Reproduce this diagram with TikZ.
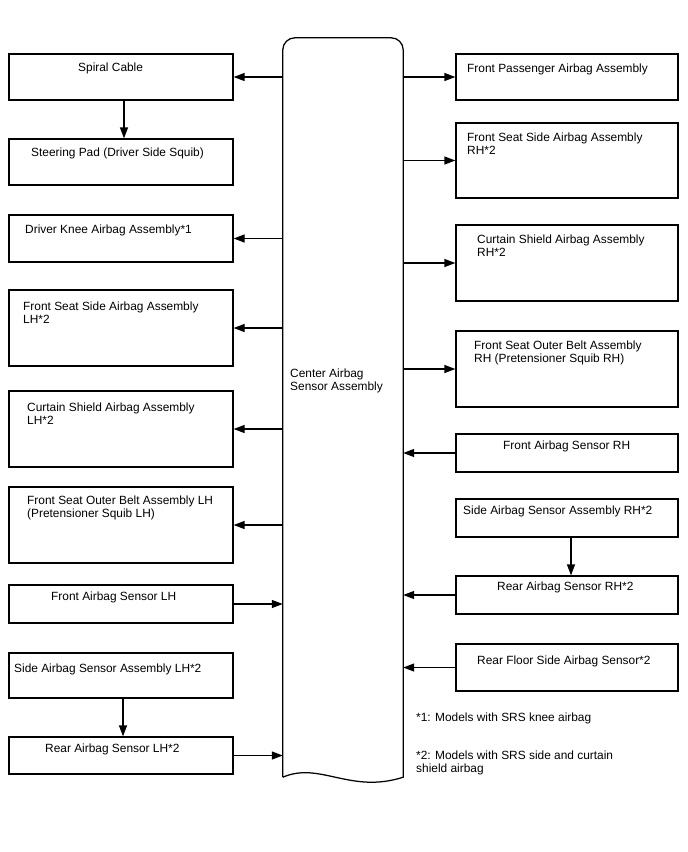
\documentclass[tikz,border=0pt]{standalone}
\usepackage{fontspec}
\setmainfont{Liberation Sans}
\usetikzlibrary{arrows.meta, calc}

\begin{document}
\begin{tikzpicture}[x=1pt, y=-1pt,
  box/.style={draw, line width=1.25pt, minimum width=224, inner sep=0pt},
  rbox/.style={box, minimum width=222},
  txt/.style={anchor=base west, inner sep=0pt, align=left, font=\fontsize{11.9}{12.9}\selectfont},
  arr/.style={line width=1.25pt, -{Triangle[length=11pt,width=8pt]}}]
  \useasboundingbox (0,0) rectangle (688,852);

  % Center airbag sensor assembly (rounded top, wavy bottom)
  \node[minimum width=120, minimum height=739, inner sep=0pt] (csa) at (343,407.5) {};
  \draw[line width=1.25pt] (csa.south west) [rounded corners=12] -- (csa.north west) -- (csa.north east)
    [sharp corners] -- (csa.south east) .. controls +(-53,17) and +(37,-16) .. (csa.south west);
  % (multi-line texts: placed at the baseline of their last line)
  \node[txt] (csat) at (290,390) {Center Airbag\\Sensor Assembly};

  % Left column
  \node[box, minimum height=46] (sc) at (121,77) {};
  \node[box, minimum height=46] (sp) at (121,162) {};
  \node[box, minimum height=47] (dk) at (121,238.5) {};
  \node[box, minimum height=76] (fssl) at (121,328) {};
  \node[box, minimum height=76] (csl) at (121,429) {};
  \node[box, minimum height=76] (fsbl) at (121,525) {};
  \node[box, minimum height=38] (fasl) at (121,604) {};
  \node[box, minimum height=45] (sasl) at (121,675.5) {};
  \node[box, minimum height=37] (rasl) at (121,755.5) {};

  \node[txt] (sct) at (78,71) {Spiral Cable};
  \node[txt] (spt) at (31,156) {Steering Pad (Driver Side Squib)};
  \node[txt] (dkt) at (25,233) {Driver Knee Airbag Assembly*1};
  \node[txt] (fsslt) at (23,323) {Front Seat Side Airbag Assembly\\LH*2};
  \node[txt] (cslt) at (27,424) {Curtain Shield Airbag Assembly\\LH*2};
  \node[txt] (fsblt) at (27,517) {Front Seat Outer Belt Assembly LH\\(Pretensioner Squib LH)};
  \node[txt] (faslt) at (51,600) {Front Airbag Sensor LH};
  \node[txt] (saslt) at (14,672) {Side Airbag Sensor Assembly LH*2};
  \node[txt] (raslt) at (45,752) {Rear Airbag Sensor LH*2};

  % Right column
  \node[rbox, minimum height=46] (fpa) at (567,77) {};
  \node[rbox, minimum height=75] (fssr) at (567,160.5) {};
  \node[rbox, minimum height=76] (csr) at (567,263) {};
  \node[rbox, minimum height=76] (fsbr) at (567,369) {};
  \node[rbox, minimum height=38] (fasr) at (567,453) {};
  \node[rbox, minimum height=38] (sasr) at (567,518) {};
  \node[rbox, minimum height=38] (rasr) at (567,595) {};
  \node[rbox, minimum height=47] (rfs) at (567,667.5) {};

  \node[txt] (fpat) at (467,72) {Front Passenger Airbag Assembly};
  \node[txt] (fssrt) at (467,154.5) {Front Seat Side Airbag Assembly\\RH*2};
  \node[txt] (csrt) at (477,256) {Curtain Shield Airbag Assembly\\RH*2};
  \node[txt] (fsbrt) at (474,362) {Front Seat Outer Belt Assembly\\RH (Pretensioner Squib RH)};
  \node[txt] (fasrt) at (503,449.5) {Front Airbag Sensor RH};
  \node[txt] (sasrt) at (463,514) {Side Airbag Sensor Assembly RH*2};
  \node[txt] (rasrt) at (497,590.5) {Rear Airbag Sensor RH*2};
  \node[txt] (rfst) at (477,664) {Rear Floor Side Airbag Sensor*2};

  % Notes
  \node[txt] (n1) at (416,721.5) {*1: Models with SRS knee airbag};
  \node[txt] (n2) at (416,772) {*2: Models with SRS side and curtain\\shield airbag};

  % Outputs from the center unit
  \foreach \b in {sc, dk, fssl, csl, fsbl}
    \draw[arr] (csa.west |- \b.east) -- (\b.east);
  \foreach \b in {fpa, fssr, csr, fsbr}
    \draw[arr] (csa.east |- \b.west) -- (\b.west);
  % Inputs to the center unit
  \foreach \b in {fasl, rasl}
    \draw[arr] (\b.east) -- (csa.west |- \b.east);
  \foreach \b in {fasr, rasr, rfs}
    \draw[arr] (\b.west) -- (csa.east |- \b.west);
  % Chained parts
  \draw[arr] ([xshift=3]sc.south) -- ([xshift=3]sp.north);
  \draw[arr] ([xshift=2]sasl.south) -- ([xshift=2]rasl.north);
  \draw[arr] ([xshift=4]sasr.south) -- ([xshift=4]rasr.north);
\end{tikzpicture}
\end{document}
